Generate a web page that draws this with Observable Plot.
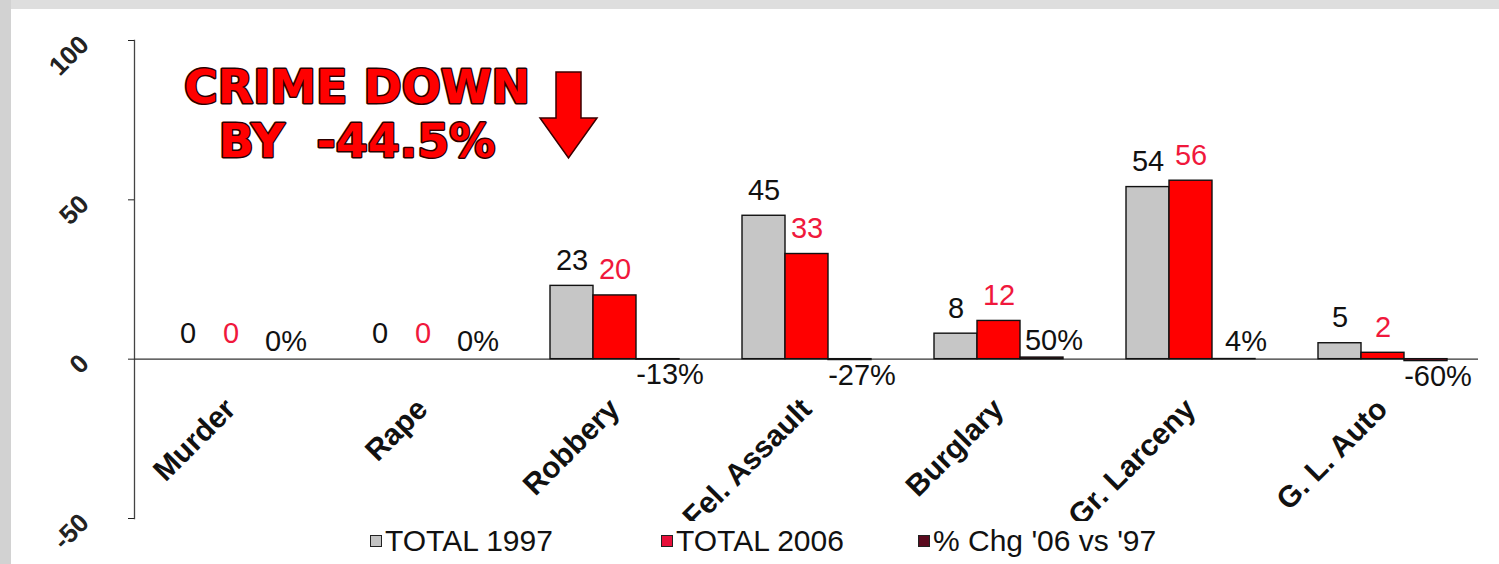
<!DOCTYPE html>
<html>
<head>
<meta charset="utf-8">
<script src="https://cdn.jsdelivr.net/npm/d3@7"></script>
<script src="https://cdn.jsdelivr.net/npm/@observablehq/plot@0.6"></script>
<style>
  body { margin: 0; background: #fff; }
  #wrap { position: relative; width: 1499px; height: 564px; overflow: hidden; background: #fff; font-family: "Liberation Sans", Arial, sans-serif; }
  #topband { position: absolute; left: 0; top: 0; width: 1499px; height: 9px; background: #dedede; }
  #leftband { position: absolute; left: 0; top: 0; width: 11px; height: 564px; background: #d2d2d2; }
  #chart { position: absolute; left: 0; top: 0; }
  #overlay { position: absolute; left: 0; top: 0; pointer-events: none; }
  #legend { position: absolute; left: 355px; top: 521px; width: 840px; height: 43px; background: #fff; }
  .item { position: absolute; top: 3px; display: flex; align-items: center; font-size: 30px; color: #111; line-height: 34px; white-space: nowrap; }
  .sw { width: 10px; height: 10px; border: 1.5px solid #222; margin-right: 3px; }
</style>
</head>
<body>
<div id="wrap">
  <div id="topband"></div>
  <div id="leftband"></div>
  <div id="chart"></div>
  <svg id="overlay" width="1499" height="564">
    <g font-family="DejaVu Sans, sans-serif" font-weight="bold" font-size="46" fill="#ff0000" stroke="#2a0000" stroke-width="3" paint-order="stroke" text-anchor="middle" stroke-linejoin="round">
      <text x="357" y="103">CRIME DOWN</text>
      <text x="357" y="157" xml:space="preserve">BY  -44.5%</text>
    </g>
    <polygon points="556,72 581,72 581,118 597,118 568.5,158 540,118 556,118" fill="#ff0000" stroke="#3a0000" stroke-width="1.5"/>
  </svg>
  <div id="legend"></div>
</div>
<script>
const categories = ["Murder", "Rape", "Robbery", "Fel. Assault", "Burglary", "Gr. Larceny", "G. L. Auto"];
const seriesNames = ["TOTAL 1997", "TOTAL 2006", "% Chg '06 vs '97"];
const total1997 = [0, 0, 23, 45, 8, 54, 5];
const total2006 = [0, 0, 20, 33, 12, 56, 2];
const pctChange = [0, 0, -13, -27, 50, 4, -60];
const yTicks = [-50, 0, 50, 100];

const barColors = {"TOTAL 1997": "#c6c6c6", "TOTAL 2006": "#ff0000", "% Chg '06 vs '97": "#7a0a22"};
const labelColors = {"TOTAL 1997": "#111111", "TOTAL 2006": "#f0183c", "% Chg '06 vs '97": "#111111"};
const legendSwatch = {"TOTAL 1997": "#c3c3c3", "TOTAL 2006": "#e8103a", "% Chg '06 vs '97": "#5a0a1e"};

const rows = categories.flatMap((c, i) => [
  {category: c, series: seriesNames[0], value: total1997[i], label: String(total1997[i])},
  {category: c, series: seriesNames[1], value: total2006[i], label: String(total2006[i])},
  {category: c, series: seriesNames[2], value: pctChange[i] / 100, label: pctChange[i] + "%"}
]);
const counts = rows.filter(d => d.series !== seriesNames[2]);
const pctUp = rows.filter(d => d.series === seriesNames[2] && d.value >= 0);
const pctDown = rows.filter(d => d.series === seriesNames[2] && d.value < 0);

const chart = Plot.plot({
  width: 1499,
  height: 564,
  marginLeft: 133,
  marginRight: 21,
  marginTop: 40,
  marginBottom: 46,
  style: {background: "transparent", fontFamily: "Liberation Sans, Arial, sans-serif", overflow: "visible"},
  fx: {domain: categories, padding: 0, axis: null, label: null},
  x: {domain: seriesNames, paddingInner: 0, paddingOuter: 0.73, axis: null},
  y: {domain: [-50, 100], axis: null},
  color: {type: "identity"},
  marks: [
    Plot.frame({anchor: "left", facetAnchor: "left", stroke: "#444", strokeWidth: 1.3}),
    Plot.axisY({ticks: yTicks, tickFormat: d => String(d), tickRotate: -45, tickSize: 6, tickPadding: 44,
      fontSize: 26, fontWeight: "bold", color: "#222", label: null}),
    Plot.ruleY([0], {stroke: "#333", strokeWidth: 1.3}),
    Plot.barY(rows, {fx: "category", x: "series", y: "value", fill: d => barColors[d.series], stroke: "#111", strokeWidth: 1.4}),
    Plot.text(counts, {fx: "category", x: "series", y: "value", text: "label", fill: d => labelColors[d.series],
      lineAnchor: "bottom", dy: -16, fontSize: 29}),
    Plot.text(pctUp, {fx: "category", x: "series", y: "value", text: "label", fill: d => labelColors[d.series],
      lineAnchor: "bottom", dy: -8, dx: 12, fontSize: 29}),
    Plot.text(pctDown, {fx: "category", x: "series", y: "value", text: "label", fill: d => labelColors[d.series],
      lineAnchor: "top", dy: 4, dx: 12, fontSize: 29}),
    Plot.text(categories, {fx: d => d, y: () => 0, text: d => d, rotate: -45, textAnchor: "end", lineAnchor: "middle",
      dy: 45, fontSize: 30, fontWeight: "bold", fill: "#111"})
  ]
});
document.getElementById("chart").appendChild(chart);

const legend = document.getElementById("legend");
const legendLeft = [15, 306, 563];
seriesNames.forEach((s, i) => {
  const item = document.createElement("div");
  item.className = "item";
  item.style.left = legendLeft[i] + "px";
  const sw = document.createElement("div");
  sw.className = "sw";
  sw.style.background = legendSwatch[s];
  const t = document.createElement("span");
  t.textContent = s;
  item.appendChild(sw);
  item.appendChild(t);
  legend.appendChild(item);
});
</script>
</body>
</html>
